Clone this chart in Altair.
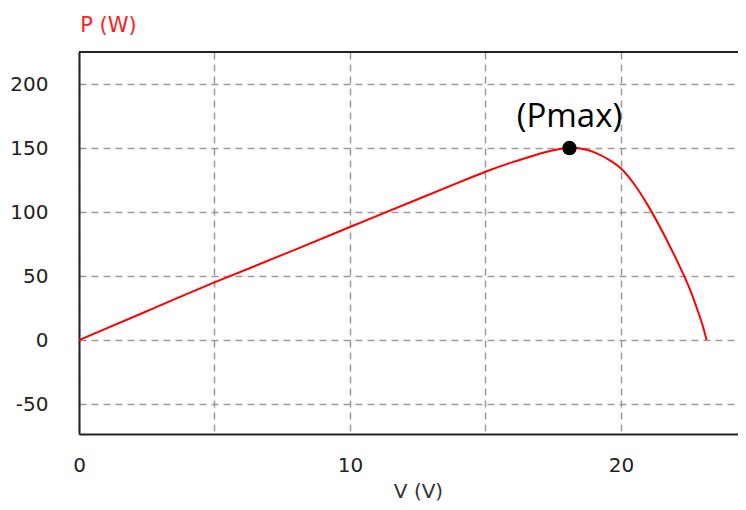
import altair as alt
import pandas as pd

# P-V curve
volts = [0, 2.5, 5, 7.5, 10, 12.5, 14, 15, 16, 17, 17.5, 18.1, 18.5, 19, 19.5, 20, 20.5, 21, 21.5, 22, 22.5, 22.8, 23.0, 23.16]
power = [0, 22.5, 45, 66.5, 88.3, 110, 123, 131.5, 139, 145.5, 148.3, 150, 149.6, 146.8, 141.5, 134, 121.5, 105, 86, 65, 42, 25, 12.5, 0]

pmax_v = [18.1]
pmax_p = [150]
pmax_label = ["(Pmax)"]

x_ticks = [0, 5, 10, 15, 20]
y_ticks = [-50, 0, 50, 100, 150, 200]

W, H = 659, 382
FONT = "DejaVu Sans"

curve = pd.DataFrame({"V": volts, "P": power})
peak = pd.DataFrame({"V": pmax_v, "P": pmax_p, "label": pmax_label})

xscale = alt.Scale(domain=[0, 24.32], nice=False, zero=False)
yscale = alt.Scale(domain=[-73.4, 225], nice=False, zero=False)

xaxis = alt.Axis(
    title="V (V)", values=x_ticks,
    labelExpr="datum.value % 10 == 0 ? '' + datum.value : ''",
    labelFlush=False,
    grid=True, gridColor="#9a9a9a", gridDash=[7, 5], gridWidth=1.5,
    ticks=False, domain=True, domainColor="#222222", domainWidth=2,
    labelFont=FONT, labelFontSize=20, labelColor="#222222", labelPadding=21,
    titleFont=FONT, titleFontSize=20, titleFontWeight="normal", titleColor="#333333",
    titleX=339, titleY=57, titleAlign="center", titleBaseline="middle",
)
yaxis = alt.Axis(
    title="P (W)", values=y_ticks,
    labelExpr="'' + datum.value",
    grid=True, gridColor="#9a9a9a", gridDash=[7, 5], gridWidth=1.5,
    ticks=False, domain=True, domainColor="#222222", domainWidth=2,
    labelFont=FONT, labelFontSize=20, labelColor="#222222", labelPadding=31,
    titleFont=FONT, titleFontSize=21, titleFontWeight="normal", titleColor="#ff2020",
    titleAngle=0, titleX=29, titleY=-27, titleAlign="center", titleBaseline="middle",
)

line = alt.Chart(curve).mark_line(color="#ff0000", strokeWidth=2, clip=True, interpolate="natural").encode(
    x=alt.X("V:Q", scale=xscale, axis=xaxis),
    y=alt.Y("P:Q", scale=yscale, axis=yaxis),
    order="V:Q",
)

dot = alt.Chart(peak).mark_circle(color="black", opacity=1, size=210).encode(
    x=alt.X("V:Q", scale=xscale),
    y=alt.Y("P:Q", scale=yscale),
)

label = alt.Chart(peak).mark_text(
    font="Open Sans", fontSize=33, color="black", dy=-31, baseline="middle", align="center"
).encode(
    x=alt.X("V:Q", scale=xscale),
    y=alt.Y("P:Q", scale=yscale),
    text="label:N",
)

top = alt.Chart(peak).mark_rule(color="#222222", strokeWidth=2).encode(
    x=alt.value(0), x2=alt.value(W), y=alt.value(0)
)

chart = alt.layer(line, top, dot, label).properties(
    width=W, height=H,
    autosize=alt.AutoSizeParams(type="none"),
    padding={"left": 71, "top": 44, "right": 0, "bottom": 68},
).configure_view(stroke=None).configure(background="white")

chart.save("out.html", embed_options={"renderer": "svg", "actions": False})
